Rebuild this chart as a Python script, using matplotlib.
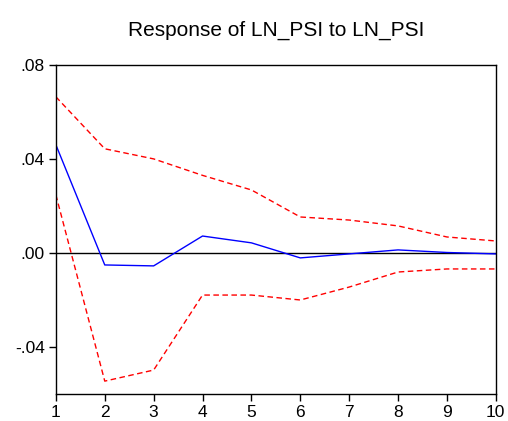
import matplotlib
matplotlib.use('Agg')
import matplotlib.pyplot as plt
from matplotlib.ticker import FuncFormatter

periods = [1, 2, 3, 4, 5, 6, 7, 8, 9, 10]
response = [0.0460, -0.0051, -0.0055, 0.0072, 0.0043, -0.0021, -0.0004, 0.0013, 0.0002, -0.0004]
upper = [0.0664, 0.0443, 0.0400, 0.0330, 0.0268, 0.0153, 0.0140, 0.0115, 0.0068, 0.0051]
lower = [0.0247, -0.0545, -0.0498, -0.0179, -0.0179, -0.0200, -0.0145, -0.0081, -0.0068, -0.0068]

plt.rcParams['font.family'] = ['Liberation Sans', 'DejaVu Sans']

fig = plt.figure(figsize=(5.08, 4.21), dpi=100)
ax = fig.add_axes([0.110, 0.064, 0.866, 0.782])

ax.axhline(0, color='black', lw=1.0)
ax.plot(periods, response, color='blue', lw=1.0)
ax.plot(periods, upper, color='red', lw=1.0, ls=(0, (4, 2.5)))
ax.plot(periods, lower, color='red', lw=1.0, ls=(0, (4, 2.5)))

ax.set_xlim(1, 10)
ax.set_ylim(-0.06, 0.08)
ax.set_xticks(periods)
ax.set_yticks([-0.04, 0.0, 0.04, 0.08])

def fmt(v, pos):
    s = '%.2f' % v
    return s.replace('0.', '.')

ax.yaxis.set_major_formatter(FuncFormatter(fmt))
ax.tick_params(direction='out', length=5, width=1, labelsize=12.5, pad=3)
for sp in ax.spines.values():
    sp.set_linewidth(1.0)

ax.set_title('Response of LN_PSI to LN_PSI', fontsize=15, pad=21)

fig.savefig('out.png', dpi=100)
